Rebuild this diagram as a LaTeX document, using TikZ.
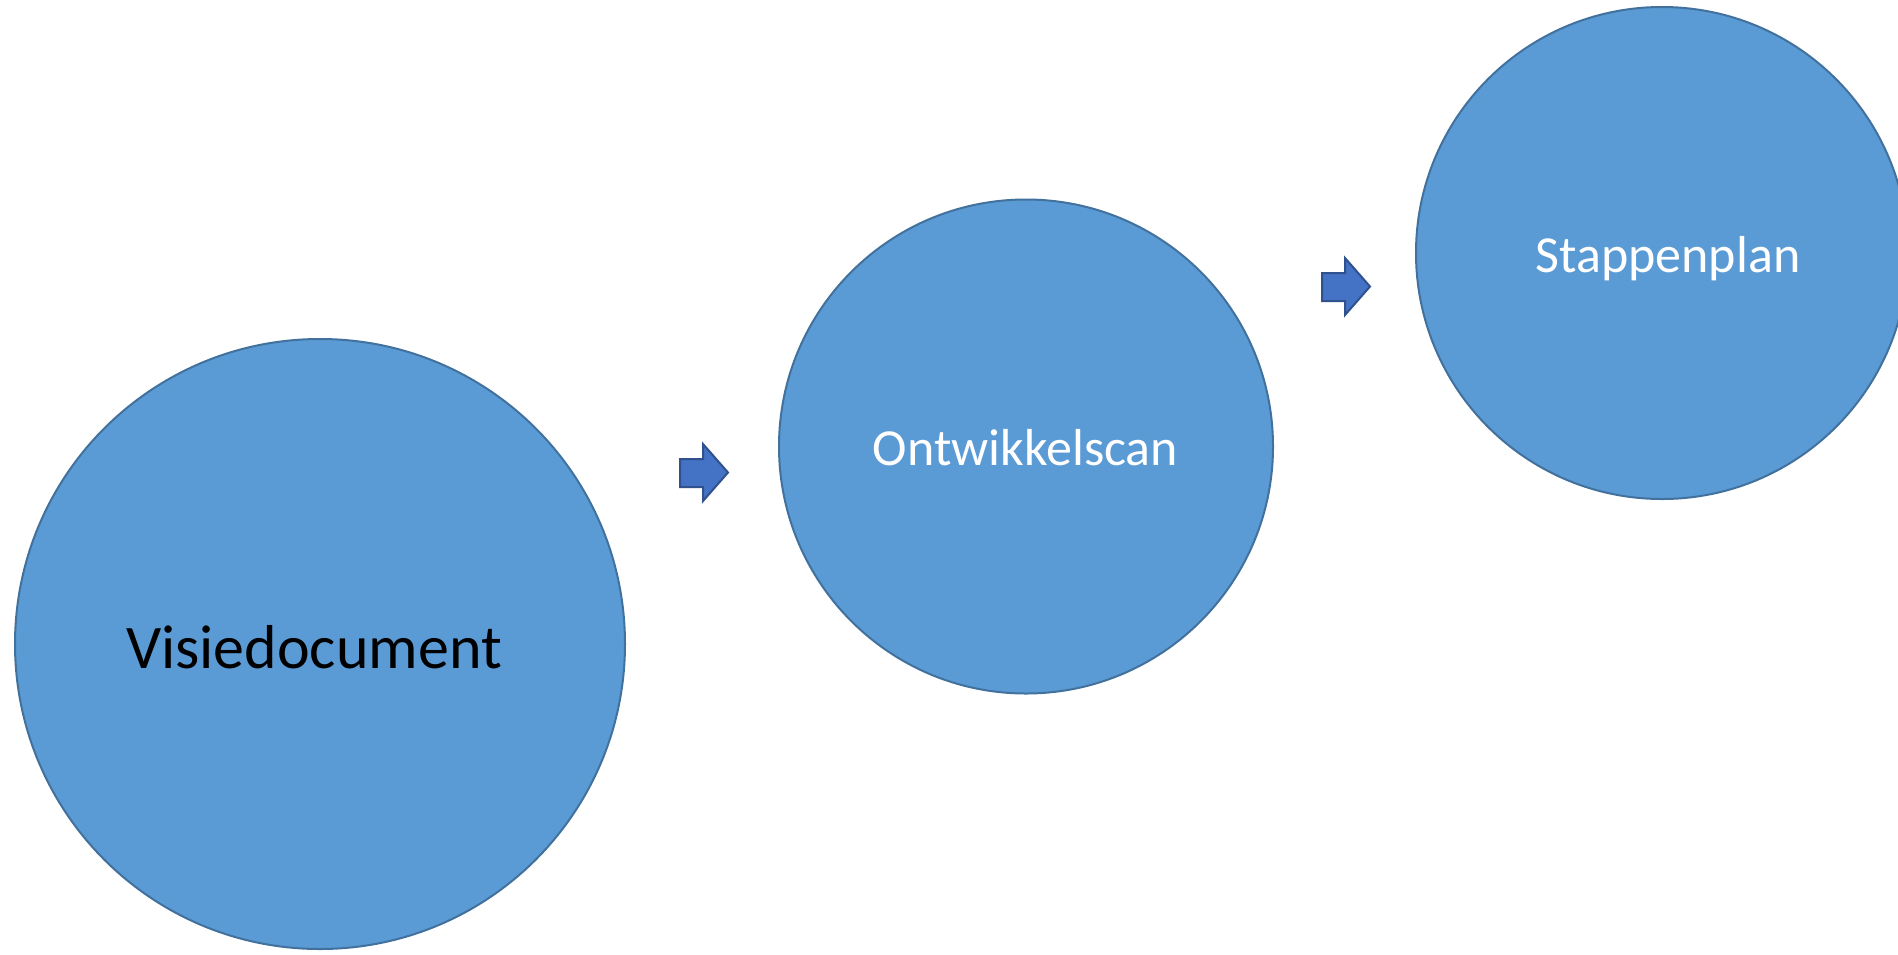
\documentclass[tikz,border=0pt]{standalone}
\usepackage{fontspec}
\setmainfont{Carlito}
\definecolor{circfill}{HTML}{5B9BD5}
\definecolor{circline}{HTML}{41719C}
\definecolor{arrfill}{HTML}{4472C4}
\definecolor{arrline}{HTML}{2F528F}
\tikzset{
  bubble/.style={circle, fill=circfill, draw=circline, line width=2pt, inner sep=0pt},
  blockarrow/.style={fill=arrfill, draw=arrline, line width=2pt, line join=miter},
  bigtext/.style={anchor=base, inner sep=0pt, font=\fontsize{62}{70}\selectfont, text=black},
  smalltext/.style={anchor=base, inner sep=0pt, font=\fontsize{52}{60}\selectfont, text=white}
}
\begin{document}
\begin{tikzpicture}[x=1pt, y=-1pt]
\useasboundingbox (0,0) rectangle (1898,954);
\clip (0,0) rectangle (1898,954);
\fill[white] (0,0) rectangle (1898,954);
% circles
\node[bubble, minimum size=610pt] (c1) at (320,644) {};
\node[bubble, minimum size=494pt] (c2) at (1026,446.5) {};
\node[bubble, minimum size=492pt] (c3) at (1662,253) {};
% labels
\node[bigtext] (t1) at (314,668) {Visiedocument};
\node[smalltext] (t2) at (1025.5,465) {Ontwikkelscan};
\node[smalltext] (t3) at (1668,272) {Stappenplan};
% block arrows
\draw[blockarrow] (680,459) -- (703,459) -- (703,444) -- (728,472.5) -- (703,501) -- (703,487) -- (680,487) -- cycle;
\draw[blockarrow] (1322,273) -- (1345,273) -- (1345,258) -- (1370,286.5) -- (1345,315) -- (1345,301) -- (1322,301) -- cycle;
\end{tikzpicture}
\end{document}
